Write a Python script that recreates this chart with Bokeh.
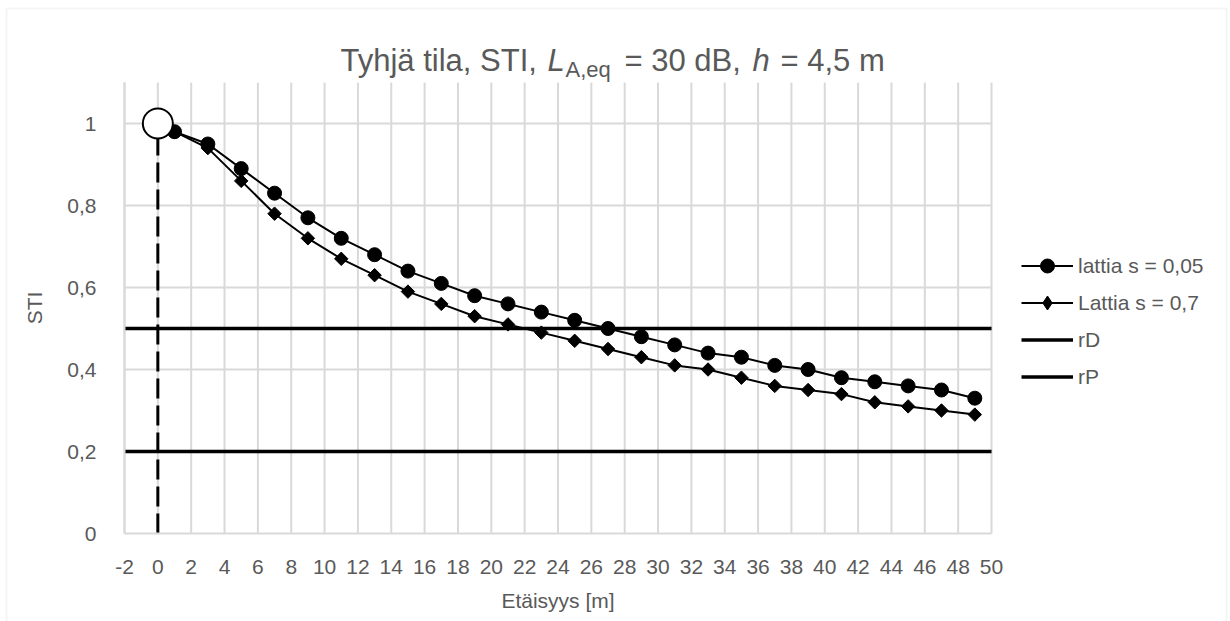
from bokeh.plotting import figure
from bokeh.models import (Range1d, FixedTicker, CustomJSTickFormatter, Legend, LegendItem,
                          Label, BoxAnnotation, LinearAxis)
from bokeh.embed import file_html
from bokeh.resources import INLINE

# Distance from the source [m]
distance = [1, 3, 5, 7, 9, 11, 13, 15, 17, 19, 21, 23, 25,
            27, 29, 31, 33, 35, 37, 39, 41, 43, 45, 47, 49]
# STI, floor absorption s = 0.05
sti_s005 = [0.98, 0.95, 0.89, 0.83, 0.77, 0.72, 0.68, 0.64, 0.61, 0.58, 0.56, 0.54, 0.52,
            0.50, 0.48, 0.46, 0.44, 0.43, 0.41, 0.40, 0.38, 0.37, 0.36, 0.35, 0.33]
# STI, floor absorption s = 0.7
sti_s07 = [0.98, 0.94, 0.86, 0.78, 0.72, 0.67, 0.63, 0.59, 0.56, 0.53, 0.51, 0.49, 0.47,
           0.45, 0.43, 0.41, 0.40, 0.38, 0.36, 0.35, 0.34, 0.32, 0.31, 0.30, 0.29]
# Limit lines rD and rP
limit_x = [-2, 50]
rD_sti = [0.5, 0.5]
rP_sti = [0.2, 0.2]
# Speaker position
source_x = [0, 0]
source_sti = [0, 1]

x_ticks = list(range(-2, 51, 2))
y_ticks = [0, 0.2, 0.4, 0.6, 0.8, 1.0]
y_grid = [0.2, 0.4, 0.6, 0.8, 1.0]
X_MIN, X_MAX = -2, 50
Y_MIN, Y_MAX = 0, 1.1

FONT = "Liberation Sans"
GREY = "#595959"
GRID = "#d9d9d9"

# canvas size and the pixel box of the plotting area
W, H = 1230, 621
AL, AR, AT, AB = 124, 991, 82, 533
kx = (AR - AL) / (X_MAX - X_MIN)
ky = (AB - AT) / (Y_MAX - Y_MIN)

# the frame fills the canvas; axes sit at fixed data locations around the plotting area
p = figure(width=W, height=H, frame_width=W, frame_height=H,
           min_border=0, output_backend="svg", toolbar_location=None,
           x_range=Range1d(X_MIN - AL / kx, X_MAX + (W - AR) / kx),
           y_range=Range1d(Y_MIN - (H - AB) / ky, Y_MAX + AT / ky),
           x_axis_location=None, y_axis_location=None)
p.outline_line_color = None
p.background_fill_color = "white"
p.border_fill_color = "white"
p.xgrid.visible = False
p.ygrid.visible = False

xaxis = LinearAxis(fixed_location=Y_MIN, bounds=(X_MIN, X_MAX),
                   ticker=FixedTicker(ticks=x_ticks),
                   formatter=CustomJSTickFormatter(code="return String(tick);"),
                   axis_label="Etäisyys [m]")
yaxis = LinearAxis(fixed_location=X_MIN, bounds=(Y_MIN, Y_MAX),
                   ticker=FixedTicker(ticks=y_ticks),
                   formatter=CustomJSTickFormatter(
                       code="return tick.toFixed(1).replace('.', ',').replace(/,0$/, '');"),
                   axis_label="STI")
for ax in (xaxis, yaxis):
    ax.major_tick_line_color = None
    ax.minor_tick_line_color = None
    ax.axis_line_color = GRID
    ax.axis_line_width = 2
    ax.major_label_text_font = FONT
    ax.major_label_text_font_size = "21px"
    ax.major_label_text_color = GREY
    ax.axis_label_text_font = FONT
    ax.axis_label_text_font_size = "21px"
    ax.axis_label_text_font_style = "normal"
    ax.axis_label_text_color = GREY
xaxis.major_label_standoff = 20
xaxis.axis_label_standoff = 12
yaxis.major_label_standoff = 22
yaxis.axis_label_standoff = 18
p.add_layout(xaxis, "below")
p.add_layout(yaxis, "left")

# gridlines, limited to the plotting area
p.segment(x0=x_ticks, x1=x_ticks, y0=[Y_MIN] * len(x_ticks), y1=[Y_MAX] * len(x_ticks),
          line_color=GRID, line_width=2)
p.segment(x0=[X_MIN] * len(y_grid), x1=[X_MAX] * len(y_grid), y0=y_grid, y1=y_grid,
          line_color=GRID, line_width=2)

# limit lines
r_rD = p.line(limit_x, rD_sti, line_color="black", line_width=3.5)
r_rP = p.line(limit_x, rP_sti, line_color="black", line_width=3.5)

# measured series
l1 = p.line(distance, sti_s005, line_color="black", line_width=2)
m1 = p.scatter(distance, sti_s005, marker="circle", size=14,
               fill_color="black", line_color="black")
l2 = p.line(distance, sti_s07, line_color="black", line_width=2)
p.scatter(distance, sti_s07, marker="square", angle=0.785398, size=9.5,
          fill_color="black", line_color="black")
# hidden diamond renderer that supplies the legend key
m2_key = p.scatter(distance, sti_s07, marker="diamond", size=16,
                   fill_color="black", line_color="black", visible=False)

# speaker position: dashed stem with an open circle on top
p.line(source_x, source_sti, line_color="black", line_width=3, line_dash="20 7")
p.scatter(source_x[1:], source_sti[1:], marker="circle", size=30,
          fill_color="white", line_color="black", line_width=2)

legend = Legend(items=[
    LegendItem(label="lattia s = 0,05", renderers=[l1, m1]),
    LegendItem(label="Lattia s = 0,7", renderers=[l2, m2_key]),
    LegendItem(label="rD", renderers=[r_rD]),
    LegendItem(label="rP", renderers=[r_rP]),
], location=(1021, H - 394))
legend.border_line_color = None
legend.background_fill_color = None
legend.padding = 0
legend.margin = 0
legend.spacing = 2
legend.glyph_width = 52
legend.glyph_height = 35
legend.label_height = 35
legend.label_standoff = 5
legend.label_text_font = FONT
legend.label_text_font_size = "21px"
legend.label_text_color = GREY
p.add_layout(legend, "center")

# title, built from pieces for the italic symbols and the subscript
title_pieces = [
    ("Tyhjä tila, STI,", 340, 60, "31px", "normal"),
    ("L", 547, 60, "31px", "italic"),
    ("A,eq", 565, 69, "22px", "normal"),
    ("= 30 dB,", 624, 60, "31px", "normal"),
    ("h", 752, 60, "31px", "italic"),
    ("= 4,5 m", 780, 60, "31px", "normal"),
]
for txt, px, py, size, style in title_pieces:
    p.add_layout(Label(x=px, y=H - py, x_units="screen", y_units="screen",
                       text=txt, text_font=FONT,
                       text_font_size=size, text_font_style=style,
                       text_color=GREY, text_align="left",
                       text_baseline="alphabetic"))

# chart area border
p.add_layout(BoxAnnotation(left=6, right=1226, top=H - 8, bottom=-100,
                           left_units="screen", right_units="screen",
                           top_units="screen", bottom_units="screen",
                           fill_color=None, fill_alpha=0, line_color=GRID, line_width=2))

open("out.html", "w").write(file_html(p, INLINE))
